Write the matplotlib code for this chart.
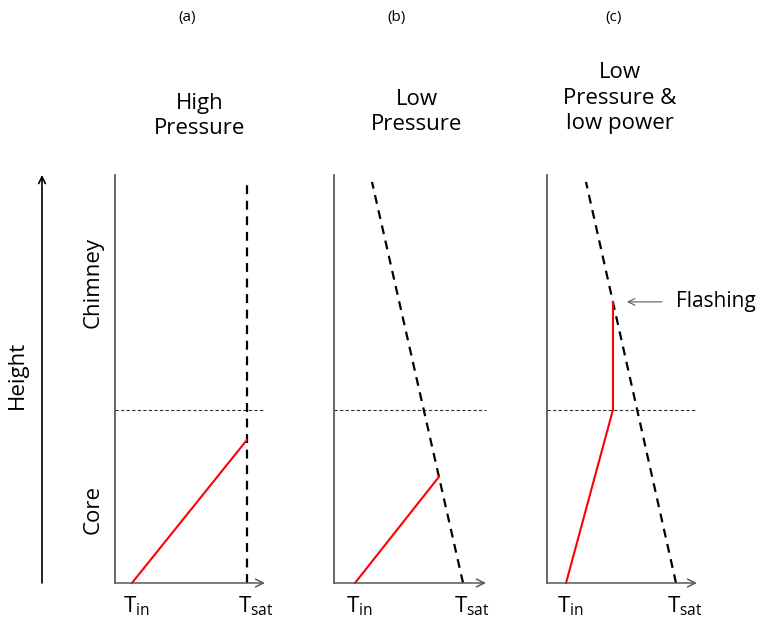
import matplotlib
matplotlib.use('Agg')
import matplotlib.pyplot as plt

plt.rcParams['font.family'] = ['Open Sans', 'DejaVu Sans']

# normalised coordinates: temperature 0..1 across panel, height 0..1 up the panel
panel_tags = ['(a)', '(b)', '(c)']
panel_titles = ['High\nPressure', 'Low\nPressure', 'Low\nPressure &\nlow power']
core_top = 0.425
t_in = [0.113, 0.138, 0.127]
# saturation line: temperature at bottom and at top (height 0.983)
sat_bottom = [0.878, 0.849, 0.86]
sat_top = [0.878, 0.25, 0.26]
sat_top_h = 0.983
# red coolant temperature profiles
red_T = [[0.113, 0.878], [0.138, 0.69], [0.127, 0.44, 0.44]]
red_h = [[0.0, 0.35], [0.0, 0.26], [0.0, 0.425, 0.689]]
flash_T, flash_h = 0.44, 0.689

W, H = 761, 621
fig = plt.figure(figsize=(W / 100, H / 100), dpi=100)

lefts = [115, 334, 547]
widths = [150, 152, 150]
bottom_px, top_px = 583, 175
title_x = [200, 417, 620]
title_mid = [116, 112, 98]
tag_x = [187, 396, 614]

axes_gray = '#595959'
for i in range(3):
    ax = fig.add_axes([lefts[i] / W, 1 - bottom_px / H, widths[i] / W, (bottom_px - top_px) / H])
    ax.set_xlim(0, 1)
    ax.set_ylim(0, 1)
    ax.axis('off')
    # vertical axis line
    ax.plot([0, 0], [0, 1], color=axes_gray, lw=1.3, clip_on=False)
    # horizontal arrow
    ax.annotate('', xy=(1.0, 0), xytext=(0, 0),
                arrowprops=dict(arrowstyle='->', color=axes_gray, lw=1.1,
                                shrinkA=0, shrinkB=0, mutation_scale=14))
    # core / chimney boundary
    ax.plot([0, 1], [core_top, core_top], color='#333333', lw=0.8,
            dashes=(3, 2), clip_on=False)
    # saturation temperature
    ax.plot([sat_bottom[i], sat_top[i]], [0, sat_top_h], color='black', lw=1.6,
            dashes=(4, 3), clip_on=False)
    # coolant temperature
    ax.plot(red_T[i], red_h[i], color='#ff0000', lw=1.5, clip_on=False)
    # tick labels
    for xv, lab in [(t_in[i], r'$\mathregular{T_{in}}$'), (sat_bottom[i], r'$\mathregular{T_{sat}}$')]:
        ax.annotate(lab, xy=(xv, 0), xytext=(-9, -11), textcoords='offset pixels',
                    ha='left', va='top', fontsize=16)
    fig.text(tag_x[i] / W, 1 - 17 / H, panel_tags[i], ha='center', va='center', fontsize=11)
    fig.text(title_x[i] / W, 1 - title_mid[i] / H, panel_titles[i], ha='center', va='center',
             fontsize=16, linespacing=1.3)
    if i == 2:
        ax.annotate('', xy=(0.533, flash_h), xytext=(0.767, flash_h),
                    arrowprops=dict(arrowstyle='->', color=axes_gray, lw=0.8,
                                    shrinkA=0, shrinkB=0, mutation_scale=12))
        ax.text(0.86, flash_h, 'Flashing', ha='left', va='center', fontsize=15)

# height arrow and side labels
ax0 = fig.axes[0]
ax0.annotate('', xy=(42 / W, 1 - 175 / H), xytext=(42 / W, 1 - 583 / H), xycoords='figure fraction',
             arrowprops=dict(arrowstyle='->', color='black', lw=1.2, shrinkA=0, shrinkB=0,
                             mutation_scale=12))
fig.text(17 / W, 1 - 375 / H, 'Height', rotation=90, ha='center', va='center', fontsize=16)
fig.text(93 / W, 1 - 283 / H, 'Chimney', rotation=90, ha='center', va='center', fontsize=16)
fig.text(93 / W, 1 - 510 / H, 'Core', rotation=90, ha='center', va='center', fontsize=16)

fig.savefig('out.png', dpi=100, facecolor='white')
